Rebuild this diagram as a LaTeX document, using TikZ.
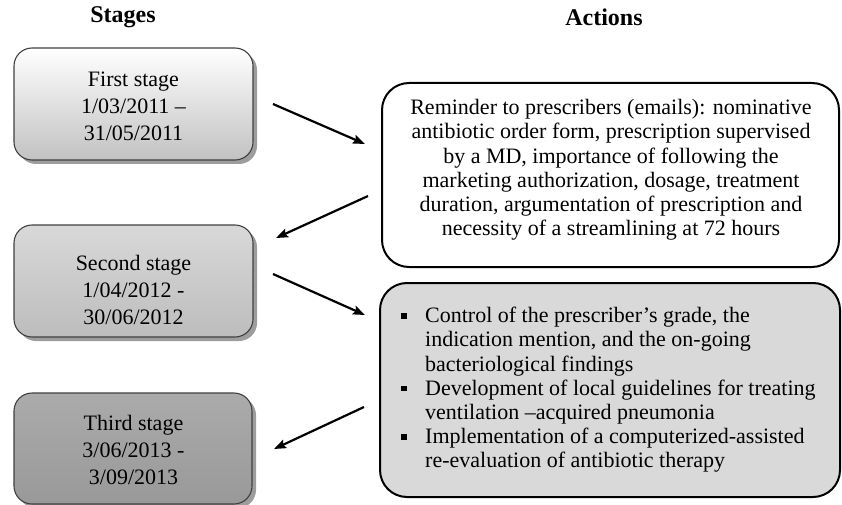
\documentclass[tikz,border=0pt]{standalone}
\usepackage{fontspec}
\setmainfont{Liberation Serif}
\usetikzlibrary{arrows.meta,shadows,calc}
\begin{document}
\begin{tikzpicture}[x=1pt,y=-1pt,
  header/.style={font=\fontsize{24}{28}\selectfont\bfseries, inner sep=0pt},
  stagebox/.style={draw=black!75, line width=1.1pt, rounded corners=18pt,
    minimum width=239pt, minimum height=112pt, inner sep=0pt,
    drop shadow={shadow xshift=4pt, shadow yshift=-4pt, fill=black!55, opacity=0.7}},
  stagetext/.style={font=\fontsize{22}{27}\selectfont, align=center, inner sep=0pt},
  actbox/.style={draw=black, line width=2pt, rounded corners=27pt, inner sep=0pt},
  acttext/.style={font=\fontsize{22}{24.2}\selectfont, align=center, inner sep=0pt},
  arrow/.style={line width=2.2pt, -{Stealth[length=12pt,width=9pt,inset=2pt]}}
]
\path[use as bounding box] (0,0) rectangle (842,505);

\node[header] (hs) at (123,17) {Stages};
\node[header] (ha) at (604,17) {Actions};

% stage boxes
\node[stagebox, top color=white, bottom color=black!24] (s1) at (133.5,104) {};
\node[stagetext] (t1) at (133.5,106) {First stage\\1/03/2011 –\\31/05/2011};

\node[stagebox, top color=black!15, bottom color=black!26] (s2) at (133.5,281) {};
\node[stagetext] (t2) at (133.5,290) {Second stage\\1/04/2012 -\\30/06/2012};

\node[stagebox, minimum width=238pt, minimum height=111pt, top color=black!33, bottom color=black!40] (s3) at (133,448.5) {};
\node[stagetext] (t3) at (133.5,450) {Third stage\\3/06/2013 -\\3/09/2013};

% action boxes
\node[actbox, fill=white, minimum width=457pt, minimum height=184pt] (b1) at (610.5,175) {};
\node[acttext] (bt1) at (611,170) {Reminder to prescribers (emails): nominative\\
antibiotic order form, prescription supervised\\
by a MD, importance of following the\\
marketing authorization, dosage, treatment\\
duration, argumentation of prescription and\\
necessity of a streamlining at 72 hours};

\node[actbox, fill=black!15, minimum width=460pt, minimum height=214pt] (b2) at (610,390) {};
\node[font=\fontsize{22}{24.2}\selectfont, inner sep=0pt, anchor=west] (bt2) at (400,390.5) {%
\begin{tabular}{@{}p{25pt}@{}l@{}}
\hspace*{1pt}\raisebox{4pt}{\rule{5.5pt}{5.5pt}} & Control of the prescriber’s grade, the\\
 & indication mention, and the on-going\\
 & bacteriological findings\\
\hspace*{1pt}\raisebox{4pt}{\rule{5.5pt}{5.5pt}} & Development of local guidelines for treating\\
 & ventilation –acquired pneumonia\\
\hspace*{1pt}\raisebox{4pt}{\rule{5.5pt}{5.5pt}} & Implementation of a computerized-assisted\\
 & re-evaluation of antibiotic therapy
\end{tabular}};

% arrows
\coordinate (a1s) at (273,104);
\coordinate (a1e) at (365,144);
\coordinate (a2s) at (368,196);
\coordinate (a2e) at (276,238);
\coordinate (a3s) at (273,274);
\coordinate (a3e) at (365,315);
\coordinate (a4s) at (364,407);
\coordinate (a4e) at (274,449);
\draw[arrow] (a1s) -- (a1e);
\draw[arrow] (a2s) -- (a2e);
\draw[arrow] (a3s) -- (a3e);
\draw[arrow] (a4s) -- (a4e);
\end{tikzpicture}
\end{document}
